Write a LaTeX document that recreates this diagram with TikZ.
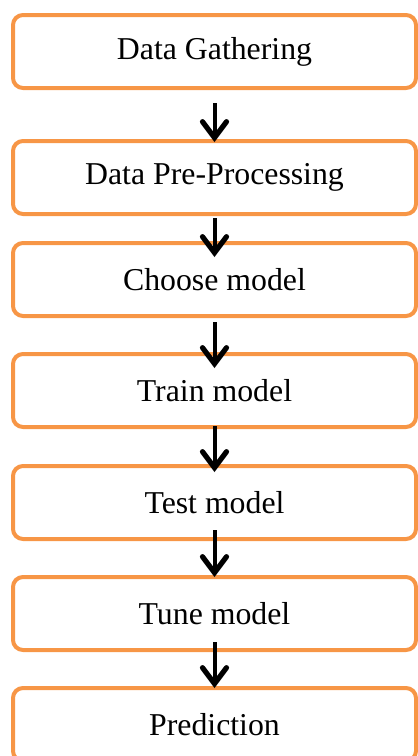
\documentclass[tikz,border=0pt]{standalone}
\usepackage{fontspec}
\setmainfont{Liberation Serif}
\usetikzlibrary{positioning,arrows.meta}
\definecolor{boxorange}{HTML}{F79646}
\tikzstyle{stepbox} = [rectangle, rounded corners=5pt, draw=boxorange, line width=2pt, outer sep=0pt,
  minimum width=201.5pt, minimum height=36.5pt, inner sep=0pt, font=\fontsize{15.9}{19}\selectfont]
\tikzstyle{flow} = [line width=2pt, -{Straight Barb[length=8pt,width=12pt,line width=2.6pt,line cap=round]}]

\begin{document}
\begin{tikzpicture}[node distance=19pt]
    \useasboundingbox (0,0) rectangle (209pt,-378pt);
    \node [stepbox] (gather) at (107.25pt,-25.75pt) {Data Gathering};
    \node [stepbox, below=26.5pt of gather] (preproc) {Data Pre-Processing};
    \node [stepbox, below=14.5pt of preproc] (choose) {Choose model};
    \node [stepbox, below= of choose] (train) {Train model};
    \node [stepbox, below=19.5pt of train] (test) {Test model};
    \node [stepbox, below= of test] (tune) {Tune model};
    \node [stepbox, below= of tune] (predict) {Prediction};

     \draw[flow]([yshift=-7.5pt]gather.south) -- ([yshift=-0.5pt]preproc.north);
     \draw[flow]([yshift=-2pt]preproc.south) -- ([yshift=-7pt]choose.north);
     \draw[flow]([yshift=-3pt]choose.south) -- ([yshift=-7pt]train.north);
     \draw[flow]([yshift=0.5pt]train.south) -- ([yshift=-3pt]test.north);
     \draw[flow]([yshift=4.5pt]test.south) -- (tune.north);
     \draw[flow]([yshift=4pt]tune.south) -- (predict.north);
\end{tikzpicture}
\end{document}
